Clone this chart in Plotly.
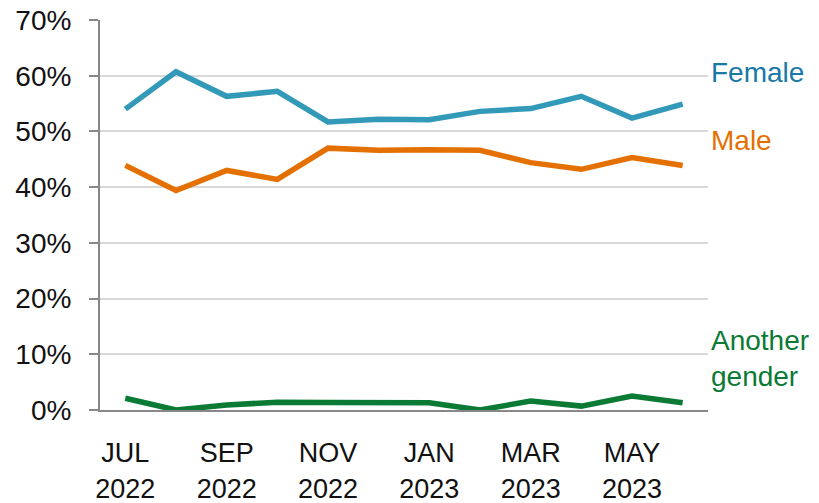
import plotly.graph_objects as go

months = ["Jul 2022", "Aug 2022", "Sep 2022", "Oct 2022", "Nov 2022", "Dec 2022",
          "Jan 2023", "Feb 2023", "Mar 2023", "Apr 2023", "May 2023", "Jun 2023"]
female = [54.0, 60.7, 56.3, 57.2, 51.7, 52.2, 52.1, 53.6, 54.1, 56.3, 52.4, 54.9]
male = [43.9, 39.4, 43.0, 41.4, 47.0, 46.6, 46.7, 46.6, 44.4, 43.2, 45.3, 43.9]
another = [2.1, 0.0, 0.9, 1.4, 1.35, 1.3, 1.3, 0.0, 1.6, 0.7, 2.5, 1.3]

tick_vals = ["Jul 2022", "Sep 2022", "Nov 2022", "Jan 2023", "Mar 2023", "May 2023"]
tick_text = ["JUL<br>2022", "SEP<br>2022", "NOV<br>2022", "JAN<br>2023", "MAR<br>2023", "MAY<br>2023"]
y_ticks = [0, 10, 20, 30, 40, 50, 60, 70]
y_tick_text = [f"{v}%" for v in y_ticks]

series = [
    ("Female", female, "#3399b8"),
    ("Male", male, "#e37000"),
    ("Another gender", another, "#0b7a35"),
]

fig = go.Figure()
for name, vals, lc in series:
    fig.add_trace(go.Scatter(x=months, y=vals, mode="lines", name=name,
                             line=dict(color=lc, width=5.5)))

font = "Liberation Sans, Arial, sans-serif"
lab_font = 28
fig.add_annotation(x=1.0, xref="paper", xanchor="left", y=60.5, yref="y",
                   text="Female", showarrow=False, xshift=1,
                   font=dict(family=font, size=lab_font, color="#1878a6"))
fig.add_annotation(x=1.0, xref="paper", xanchor="left", y=48.3, yref="y",
                   text="Male", showarrow=False, xshift=1,
                   font=dict(family=font, size=lab_font, color="#e37000"))
fig.add_annotation(x=1.0, xref="paper", xanchor="left", y=9.2, yref="y",
                   text="Another<br>gender", showarrow=False, xshift=1, align="left",
                   font=dict(family=font, size=lab_font, color="#0b7a35"))

fig.update_layout(
    width=819, height=503,
    margin=dict(l=100, r=111, t=20, b=93),
    plot_bgcolor="white", paper_bgcolor="white",
    showlegend=False,
    font=dict(family=font, size=27, color="#111111"),
    xaxis=dict(type="category", categoryorder="array", categoryarray=months,
               range=[-0.5, 11.5], tickmode="array", tickvals=tick_vals, ticktext=tick_text,
               showgrid=False, showline=True, linecolor="#888888", linewidth=2,
               ticks="", tickfont=dict(size=27, family=font), ticklabelstandoff=18,
               automargin=False),
    yaxis=dict(range=[0, 70], tickmode="array", tickvals=y_ticks, ticktext=y_tick_text,
               showgrid=True, gridcolor="#d9d9d9", gridwidth=1.5,
               showline=True, linecolor="#888888", linewidth=2,
               ticks="outside", ticklen=9, tickcolor="#888888", tickwidth=2,
               tickfont=dict(size=28, family=font), zeroline=False,
               ticklabelstandoff=12, automargin=False, ticklabeloverflow="allow"),
)

fig.write_html("out.html", config={"displayModeBar": False},
               post_script="document.body.style.margin='0';")
